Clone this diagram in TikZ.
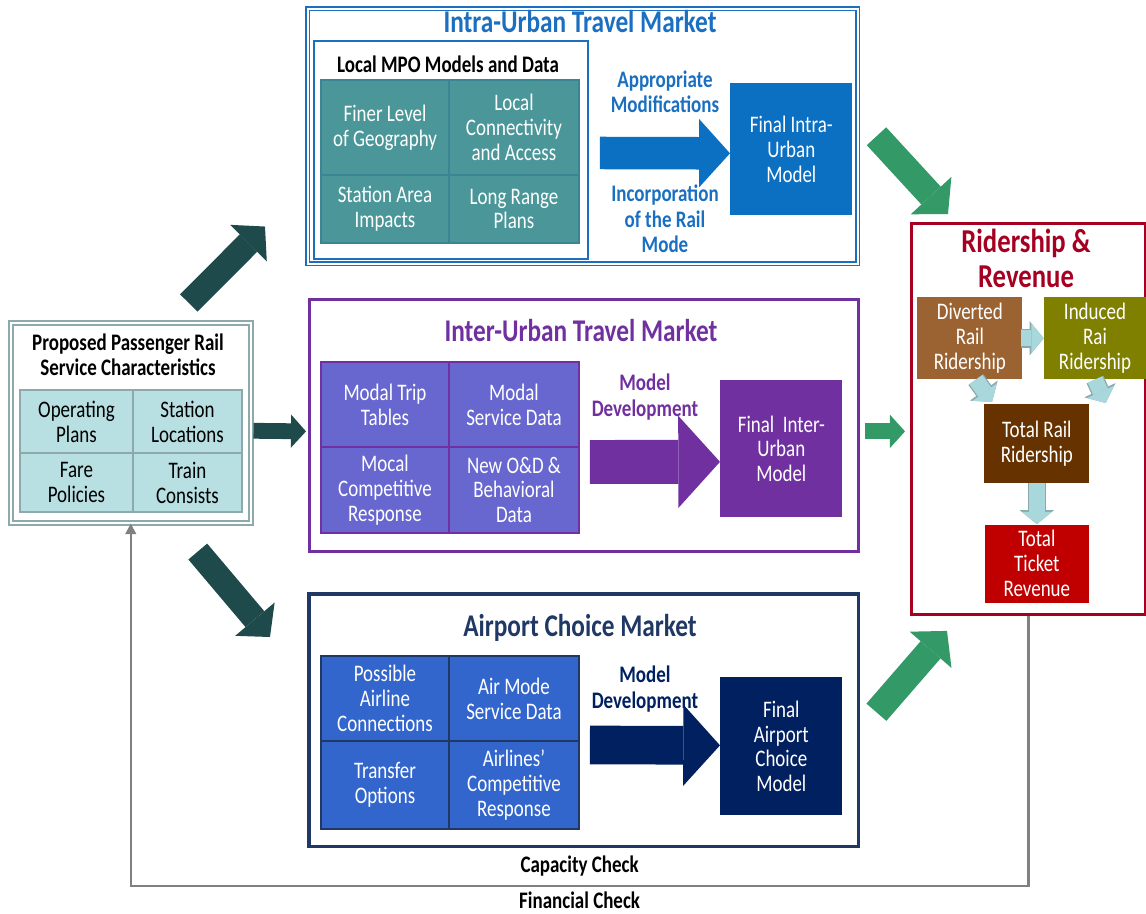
\documentclass[tikz,border=0pt]{standalone}
\usepackage{fontspec}
\setmainfont[FakeStretch=0.8]{Carlito}
\usetikzlibrary{arrows.meta, positioning, calc}
\definecolor{IntraBlue}{HTML}{1A6FC0}
\definecolor{IntraFinal}{HTML}{0B6FC2}
\definecolor{TealFill}{HTML}{4A9698}
\definecolor{TealLine}{HTML}{3B8494}
\definecolor{InterPurple}{HTML}{7030A0}
\definecolor{InterFill}{HTML}{6767CF}
\definecolor{AirNavy}{HTML}{1F3864}
\definecolor{AirFinal}{HTML}{002060}
\definecolor{AirFill}{HTML}{3366CC}
\definecolor{PropFill}{HTML}{B8DFE2}
\definecolor{PropLine}{HTML}{8EA9AB}
\definecolor{DarkArrow}{HTML}{1F4A4C}
\definecolor{GreenArrow}{HTML}{339966}
\definecolor{RevRed}{HTML}{A50021}
\definecolor{DivBrown}{HTML}{9B6332}
\definecolor{IndOlive}{HTML}{808000}
\definecolor{TotBrown}{HTML}{663300}
\definecolor{TicketRed}{HTML}{C00000}
\definecolor{LightFill}{HTML}{A9D8DC}
\definecolor{LightLine}{HTML}{8AA9AE}
\definecolor{CheckGray}{HTML}{808080}
\newcommand{\cellfont}{\fontsize{13.5}{14.2}\selectfont}
\newcommand{\headfont}{\fontsize{13.5}{14.5}\selectfont\bfseries}
\newcommand{\marketfont}{\fontsize{18}{20}\selectfont\bfseries}

\begin{document}
\begin{tikzpicture}[
    x=0.02cm, y=-0.02cm,
    marketbox/.style={
        rectangle, draw=#1, line width=1.6pt, minimum width=11cm,
        minimum height=5.06cm, anchor=north west, inner sep=0pt
    },
    cell/.style={
        rectangle, draw=#1, line width=1.2pt, text=white, align=center,
        font=\cellfont, inner sep=1pt, outer sep=0pt
    },
    finalbox/.style={
        rectangle, fill=#1, text=white, align=center, font=\cellfont,
        minimum width=2.44cm, anchor=north west
    },
    ridebox/.style={
        rectangle, fill=#1, text=white, align=center, font=\cellfont,
        minimum width=2.1cm, minimum height=1.57cm
    },
    markettitle/.style={font=\marketfont, text=#1, anchor=base},
    arrowtext/.style={font=\headfont, text=#1, align=center, inner sep=1pt},
    blockarrow/.style={
        line width=#1, -{Triangle[length=0pt 0.95, width=0pt 2.1, line width=0pt]}
    },
    lightarrow/.style={
        draw=LightFill, line width=9pt,
        -{Triangle[length=7pt, width=17pt, line width=0pt]},
        preaction={draw=LightLine, line width=10.5pt,
                   -{Triangle[length=8pt, width=19.5pt, line width=0pt]}}
    },
    checkline/.style={
        draw=CheckGray, line width=1.3pt,
        -{Triangle[length=6pt, width=6pt]}
    }
]
\useasboundingbox (0,0) rectangle (1146,913);

% --- Proposed service (left) ---
\node[marketbox=PropLine, double=white, double distance=1.4pt, line width=0.9pt,
      minimum width=4.8cm, minimum height=4cm] (prop) at (10,322) {};
\node[font=\headfont, align=center] (proptitle) at (128,355)
    {Proposed Passenger Rail\\Service Characteristics};
\node[cell=PropLine, fill=PropFill, text=black, minimum width=2.26cm,
      minimum height=1.26cm, anchor=north west] (p1) at (20,390)
    {Operating\\Plans};
\node[cell=PropLine, fill=PropFill, text=black, minimum width=2.18cm,
      minimum height=1.26cm, right=0pt of p1] (p2) {Station\\Locations};
\node[cell=PropLine, fill=PropFill, text=black, minimum width=2.26cm,
      minimum height=1.18cm, below=0pt of p1] (p3) {Fare\\Policies};
\node[cell=PropLine, fill=PropFill, text=black, minimum width=2.18cm,
      minimum height=1.18cm, below=0pt of p2] (p4) {Train\\Consists};

% --- Intra-urban market ---
\node[marketbox=IntraBlue, double=white, double distance=1.2pt, line width=0.9pt,
      minimum height=5.1cm] (intra) at (307,8) {};
\node[markettitle=IntraBlue] (intratitle) at (580,32) {Intra-Urban Travel Market};
\node[rectangle, draw=IntraBlue, line width=1.3pt, minimum width=5.48cm,
      minimum height=4.36cm, anchor=north west] (local) at (313,40) {};
\node[font=\headfont, anchor=base] (localtitle) at (448,72)
    {Local MPO Models and Data};
\node[cell=TealLine, fill=TealFill, minimum width=2.56cm, minimum height=1.9cm,
      anchor=north west] (t1) at (321,80) {Finer Level\\of Geography};
\node[cell=TealLine, fill=TealFill, minimum width=2.6cm, minimum height=1.9cm,
      right=0pt of t1] (t2) {Local\\Connectivity\\and Access};
\node[cell=TealLine, fill=TealFill, minimum width=2.56cm, minimum height=1.36cm,
      below=0pt of t1] (t3) {Station Area\\Impacts};
\node[cell=TealLine, fill=TealFill, minimum width=2.6cm, minimum height=1.36cm,
      below=0pt of t2] (t4) {Long Range\\Plans};
\node[finalbox=IntraFinal, minimum height=2.64cm] (tfinal) at (730,83)
    {Final Intra-\\Urban\\Model};

% --- Inter-urban market ---
\node[marketbox=InterPurple, minimum width=10.98cm, minimum height=5.04cm]
    (inter) at (308,298) {};
\node[markettitle=InterPurple] (intertitle) at (581,341) {Inter-Urban Travel Market};
\node[cell=InterPurple, fill=InterFill, minimum width=2.56cm, minimum height=1.7cm,
      anchor=north west] (e1) at (321,362) {Modal Trip\\Tables};
\node[cell=InterPurple, fill=InterFill, minimum width=2.6cm, minimum height=1.7cm,
      right=0pt of e1] (e2) {Modal\\Service Data};
\node[cell=InterPurple, fill=InterFill, minimum width=2.56cm, minimum height=1.72cm,
      below=0pt of e1] (e3) {Mocal\\Competitive\\Response};
\node[cell=InterPurple, fill=InterFill, minimum width=2.6cm, minimum height=1.72cm,
      below=0pt of e2] (e4) {New O\&D \&\\Behavioral\\Data};
\node[finalbox=InterPurple, minimum height=2.74cm] (efinal) at (720,380)
    {Final\ \ Inter-\\Urban\\Model};

% --- Airport choice market ---
\node[marketbox=AirNavy, line width=2pt] (air) at (307,592) {};
\node[markettitle=AirNavy] (airtitle) at (580,636) {Airport Choice Market};
\node[cell=AirNavy, fill=AirFill, minimum width=2.56cm, minimum height=1.7cm,
      anchor=north west] (a1) at (321,656) {Possible\\Airline\\Connections};
\node[cell=AirNavy, fill=AirFill, minimum width=2.6cm, minimum height=1.7cm,
      right=0pt of a1] (a2) {Air Mode\\Service Data};
\node[cell=AirNavy, fill=AirFill, minimum width=2.56cm, minimum height=1.76cm,
      below=0pt of a1] (a3) {Transfer\\Options};
\node[cell=AirNavy, fill=AirFill, minimum width=2.6cm, minimum height=1.76cm,
      below=0pt of a2] (a4) {Airlines'\\Competitive\\Response};
\node[finalbox=AirFinal, minimum height=2.76cm] (afinal) at (720,677)
    {Final\\Airport\\Choice\\Model};

% --- Ridership & revenue ---
\node[rectangle, draw=RevRed, line width=1.7pt, minimum width=4.68cm,
      minimum height=7.82cm, anchor=north west] (rr) at (910,222) {};
\node[font=\fontsize{19}{20}\selectfont\bfseries, text=RevRed, align=center]
    (rrtitle) at (1026,258) {Ridership \&\\Revenue};
\node[ridebox=DivBrown, anchor=north west] (div) at (917,297)
    {Diverted\\Rail\\Ridership};
\node[ridebox=IndOlive, minimum width=2.04cm, right=0.42cm of div] (ind)
    {Induced\\Rai\\Ridership};
\node[ridebox=TotBrown, anchor=north west] (tot) at (984,404)
    {Total Rail\\Ridership};
\node[ridebox=TicketRed, minimum width=2.08cm, below=0.82cm of tot] (rev)
    {Total\\Ticket\\Revenue};

\draw[lightarrow] ([xshift=-1pt]div.east) -- (div.east -| ind.west);
\draw[lightarrow] ($(div.south)+(6,0)$) -- ($(tot.north west)+(8,-2)$);
\draw[lightarrow] (ind.south) -- ($(tot.north east)+(16,-1)$);
\draw[lightarrow] (tot.south) -- (rev.north);

% Block arrows inside the markets
\draw[blockarrow=18.5pt, IntraFinal]
    ($(t2.south east)+(21,-22)$) -- ($(tfinal.west)+(0,4)$)
    node[arrowtext=IntraBlue, midway, above=0.44cm] (appr)
        {Appropriate\\Modifications}
    node[arrowtext=IntraBlue, midway, below=0.28cm] (incorp)
        {Incorporation\\of the Rail\\Mode};
\draw[blockarrow=25pt, InterPurple]
    ($(e2.south east)+(11,15)$) -- ($(efinal.west)+(0,13)$)
    node[arrowtext=InterPurple, midway, above=0.36cm, xshift=-0.2cm] (edev)
        {Model\\Development};
\draw[blockarrow=22pt, AirFinal]
    ($(a2.south east)+(11,4)$) -- ($(afinal.west)+(0,-1)$)
    node[arrowtext=AirFinal, midway, above=0.24cm, xshift=-0.2cm] (adev)
        {Model\\Development};

% From the service characteristics to the markets
\draw[blockarrow=14pt, DarkArrow]
    ($(prop.north)+(58,-19)$) -- ($(intra.south west)+(-42,-38)$);
\draw[blockarrow=9pt, DarkArrow]
    ($(prop.east)+(2,8)$) -- ($(inter.west)+(-2,6)$);
\draw[blockarrow=14pt, DarkArrow]
    ($(prop.south)+(67,28)$) -- ($(air.north west)+(-37,45)$);

% From the markets to ridership
\draw[blockarrow=15pt, GreenArrow]
    ($(intra.east)+(18,0)$) -- ($(rr.north west)+(38,-8)$);
\draw[blockarrow=9pt, GreenArrow]
    ($(inter.east)+(5,6)$) -- ($(rr.west |- inter.east)+(-5,6)$);
\draw[blockarrow=15pt, GreenArrow]
    ($(air.east)+(16,-8)$) -- ($(rr.south west)+(37,15)$);

% Feedback loop
\draw[checkline] (rr.south) -- ++(0,270) -|
    node[pos=0.25, above=4pt, inner sep=1pt, font=\headfont] (cap)
        {Capacity Check}
    node[pos=0.25, below=2pt, inner sep=1pt, font=\headfont] (fin)
        {Financial Check}
    (prop.south);

\end{tikzpicture}
\end{document}
